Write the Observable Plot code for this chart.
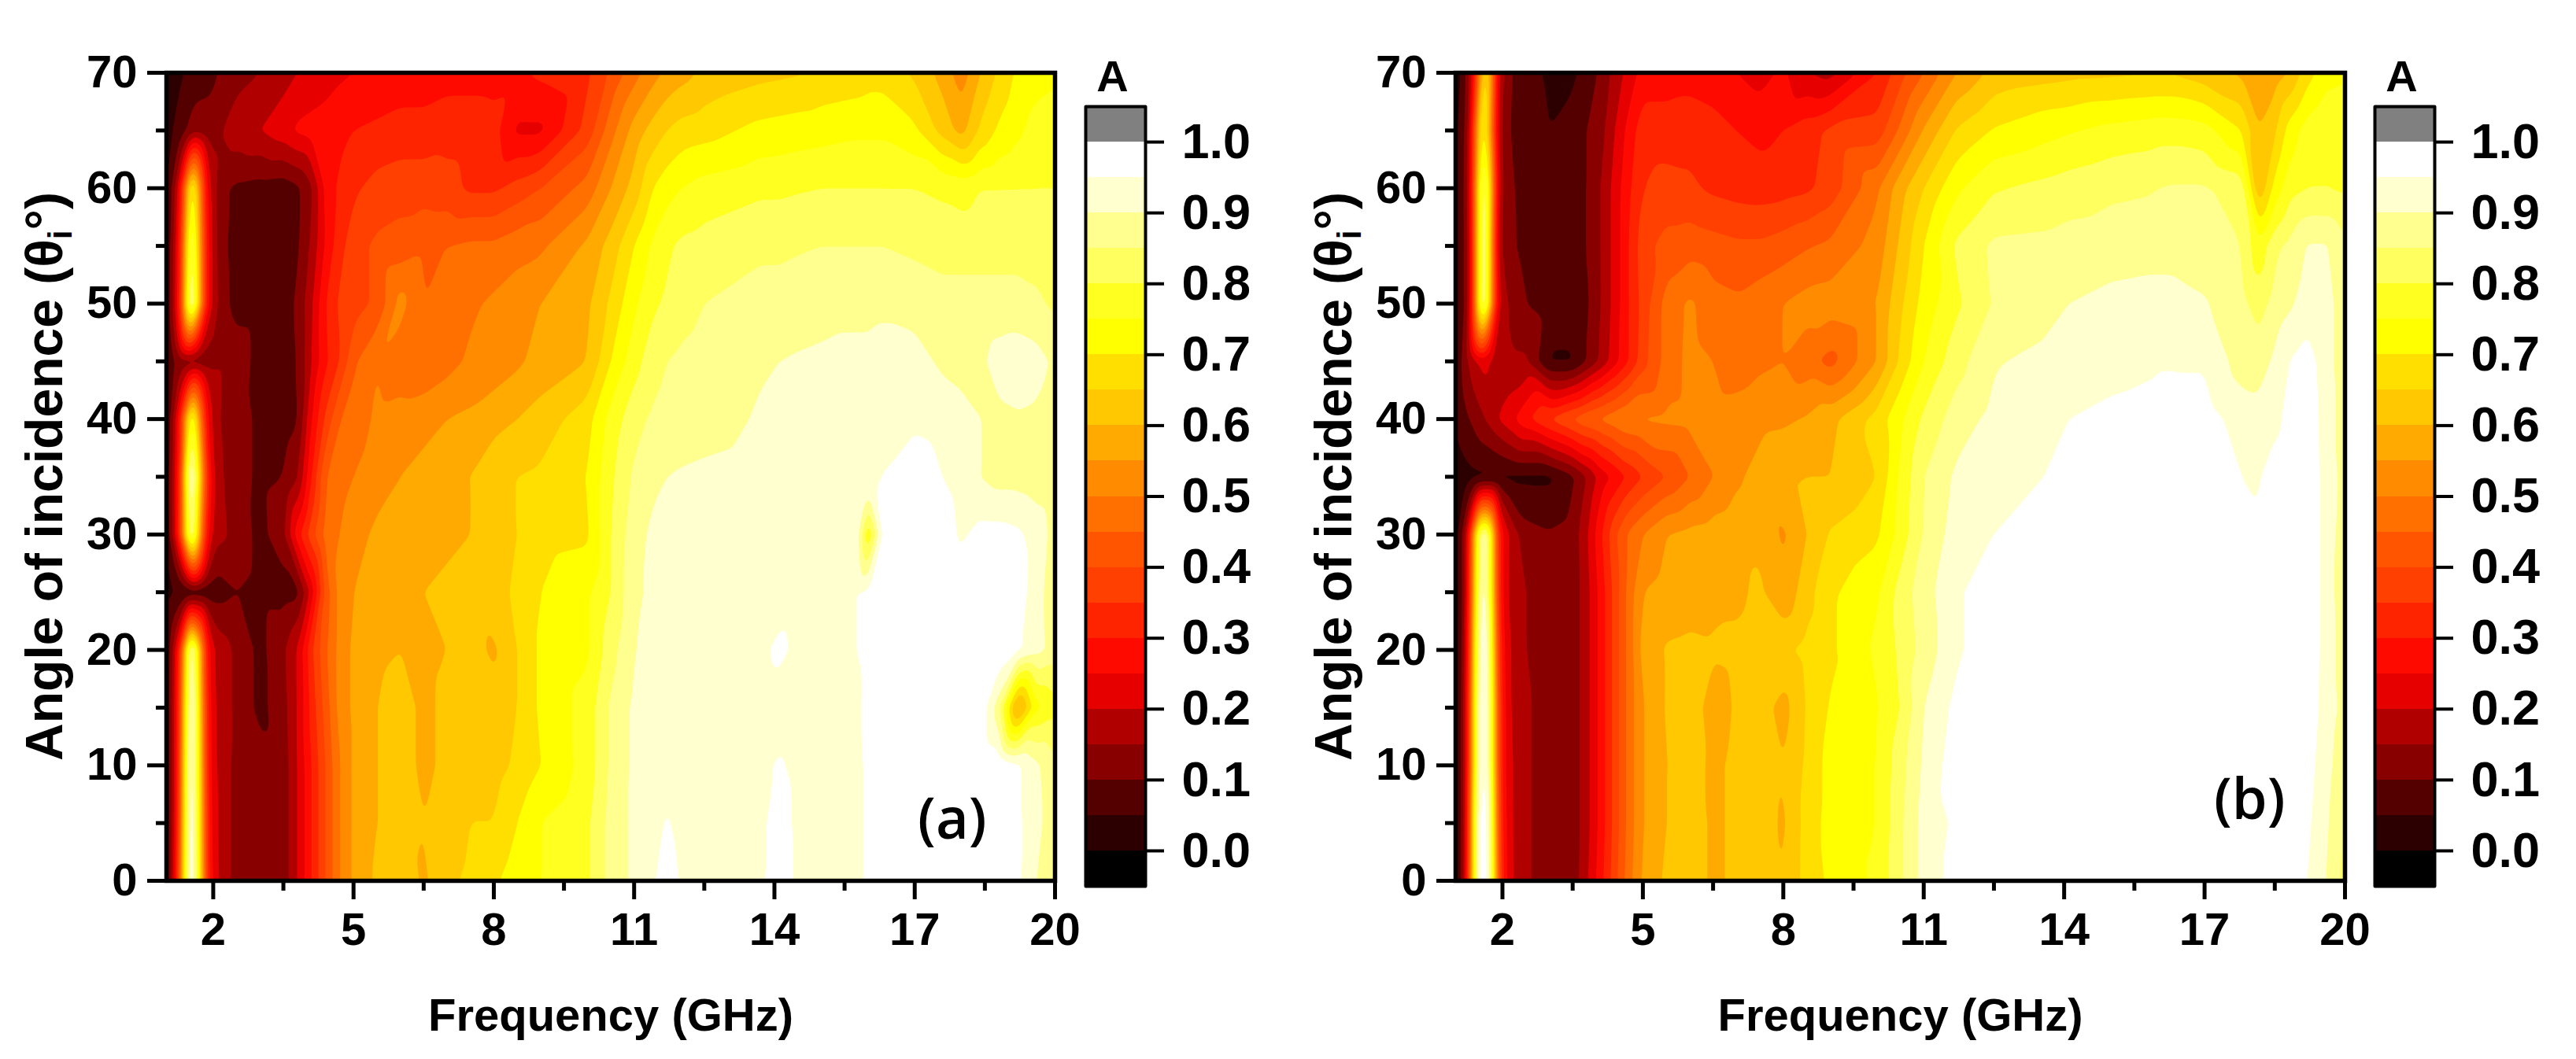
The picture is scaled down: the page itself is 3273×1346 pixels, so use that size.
<!DOCTYPE html>
<html><head><meta charset="utf-8">
<script src="https://cdn.jsdelivr.net/npm/d3@7"></script>
<script src="https://cdn.jsdelivr.net/npm/@observablehq/plot@0.6"></script>
<style>html,body{margin:0;padding:0;background:#fff;overflow:hidden;width:3273px;height:1346px}
.p{position:absolute;top:0}</style></head><body>
<script>
const angles=[0,5,10,15,20,25,30,35,40,45,50,55,60,65,70];
const freqA=[1,1.15,1.3,1.45,1.55,1.7,1.85,2,2.2,2.5,3,3.5,3.8,4.1,4.4,4.7,5,5.5,6,6.5,7,7.5,8,8.5,9,10,10.5,11,11.4,11.7,12,12.5,13.7,14.1,14.5,15,15.8,16,16.3,17,17.6,18,18.4,18.8,19.2,19.6,20];
const freqB=[1,1.15,1.3,1.45,1.6,1.75,1.9,2.05,2.2,2.5,3,3.5,3.8,4.1,4.4,4.7,5,5.5,6,6.5,7,7.5,8,8.5,9,10,10.5,11,11.7,12.5,14.1,15,15.8,16,16.3,17,17.8,18.15,18.5,18.8,19.2,19.6,20];
// absorbance in percent, one row per angle of incidence
const a00=[3,18,45,92,99,76,35,23,18,13,12,12,20,30,40,50,56,61,64,59,64,66,69,73,75,79,87,91,94,99,94,93,94,98,94,93,94,96,98,99,99,99,99,99,96,90,86];
const a05=[3,17,42,90,99,74,34,22,18,13,12,12,20,30,40,50,56,60,62,60,62,65,65,70,75,79,87,91,92,96,92.5,93,94,97,94,93,94,96,98,99,99,99,99,99,96,92,86];
const a10=[3,17,40,88,99,72,33,21,18,13,12,12,20,30,40,50,56,60,62,59,61,64,63,66,70,77,86,91,92,93,93,93,94,95.5,94,93,94,96,98,99,99,99,99,99,96,91,86];
const a15=[3,17,38,85,99,70,32,21,17,14,8.5,13,20,32,42,52,56,60,62,59,61,65,62,65,71,77,86,91,92,92,92,93,93,93,93,94,94,97,98,99,99,99,99,87,55,74,78];
const a20=[3,16,33,78,97,65,30,20,17,14,8.5,14,20,34,44,52,56,59,60,59,60,62,59,65,71,74,83,90,91,92,92,93,94,96,94,94,95,96,98,99,99,99,99,99,96,92,88];
const a25=[3,5,6,6,6,6,6,7,8,10,8.5,8,8,22,42,52,55,58,59,60,61,62,63,66,70,74,80,89,91,92,92.5,93,93,93,93.5,94,95,96,98,99,99,99,99,99,98,92,87];
const a30=[4,16,35,78,93,60,28,18,16,13,8.5,13,28,38,47,50,53,56,57,58,59,60,62,65,68,69,80,88,91,92,92,92,93,93,93.5,94,93,72,97,99,98,94,97,97,96,93,88];
const a35=[4,17,33,85,98,70,35,20,15,12,9,10,14,30,45,48,50,53,55,57,58,60,64,65,66,70,79,86,89,90,90.5,91,92,92,92.5,93,94,94,95,98,95,93,90,88,88,87,87];
const a40=[3,15,30,65,82,55,27,18,14,12,9,8,9,25,36,45,47,51,52,53,55,56,58,60,62,68,77,83,86,87,87.5,88,90.5,91,91.5,92,93,93,94,94,93,92,90,89,89.5,89,87];
const a45=[3,10,13,12,12,12,12,14,15,13,8,7,10,20,29,35,44,50,47,46,48,51,52,54,57,60,70,78,83,85,86,87,89.5,90,90.5,91,92,92,92,92,89,88,89,92,93,92,89];
const a50=[3,16,32,78,95,62,28,18,12,8,8,7,11,19,30,36,38,41,52,45,47,49,51,53,55,59,66,74,79,81,83,85,87,87,87.5,88,88,88,89,88,87,87,87,87,87,86,84];
const a55=[3,15,30,72,88,60,28,18,11,8,7,7,9,16,26,33,38,41,42,44,45,46,46,48,49,56,62,70,76,79,81,82,84,84,84.5,85,85,85,85,84,83,83,83,83,83,83,83];
const a60=[3,12,25,60,78,55,25,17,11,9,8,7,9,14,27,31,34,37,38,38,37,34,34,37,40,47,55,62,70,73,75,77,79,79,79.5,80,80,80,80,80,79,78,80,80,80,80,80];
const a65=[3,5,8,10,13,13,12,12,15,18,20,23,26,27,28,29,30,31,32,32,33,33,32,24,24,37,48,57,62,65,67,68,71.5,72,72.5,73,74,74,74,71,63,58,66,71,74,77,78];
const a70=[3,3,4,6,6,7,8,9,11,13,15,18,20,21,22,24,25,26,27,27,28,28,28,29,31,34,41,48,53,56,58,61,63.5,64,64.5,66,67,68,68,64,58,52,60,66,71,73,74];
const b00=[2,10,40,95,99,93,42,27,20,16,12,12,19,28,38,48,56,61,63,59,61,63,60,67,71,76,84,92,97,99,99,99,99,99,99,99,99,99,99,99,95,90,83];
const b05=[2,10,38,95,99,92,40,26,20,16,12,12,18,27,37,47,55,60,63,59,61,63,59,67,72,75,84,92,96,99,99,99,99,99,99,99,99,99,99,99,96,91,84];
const b10=[2,10,36,88,99,88,38,25,20,16,12,12,18,27,37,47,55,60,62,59,61,63,60,66,72,75,83,91,98,99,99,99,99,99,99,99,99,99,99,99,97,92,86];
const b15=[2,10,36,88,99,88,38,25,19,16,12,12,18,27,37,47,55,60.5,62.5,58,60.5,62.5,58,65.5,70.5,74.5,80,90,96.5,99,99,99,99,99,99,99,99,99,99,99,98,93,88];
const b20=[2,9,33,85,99,85,36,24,19,15,12,12,18,27,37,47,57,60.5,61,60.5,61,62,64,66.5,69,76,81,87,94,99,99,99,99,99,99,99,99,99,99,99,99,93,87];
const b25=[2,8,30,80,97,80,33,22,18,15,12,12,18,27,37,47,55,57,58,59,59,61,56,63,69,74,82,88,94,99,99,99,99,99,99,99,99,99,99,99,99,93,86];
const b30=[2,9,28,75,95,78,32,23,18,12,10.5,12,19,29,39,46,50,55,56.5,57.5,58.5,59,54,60,65.5,69,77,85.5,92.5,95,98,99,99,99,99,98,96,96,99,99,99,93,87];
const b35=[2,3,4,4,4,4,4,4,4,4,4,9,15,22,26,31,35,40,45,50,54,57,60,60,60,65,76,85,91,93,96,98,99,99,99,99,95,94,99,99,99,93,88];
const b40=[5,8,10,12.5,14.5,17,20,22,24,29,35.5,41,44,46,48,50,50.5,51,51.5,52,52.5,53.5,54,55.5,58.5,67,74,81,87.5,91.5,95,96,97,97,97.5,97,93,92,93,97,98,93,87];
const b45=[3,12,16,20,22,20,17,16,16,16,4.5,4.5,10,16,23,30,38,47,51.5,50,47,49,50,47,43,55,66,75,83,89.5,92.5,93.5,94,94.5,94.5,94.5,87.5,87.5,91,95,97.5,92,87];
const b50=[2,9,14,60,95,60,20,16,14,10,8,7,9,15,22,30,37,47,51,47,46,48,50,52,52.5,55,64,72,79,85.5,90,91.5,92,92,92,90.5,86.5,82.5,87,89,92.5,92,87];
const b55=[2,9,14,60,95,62,17,13,11,8,7,7,10,15,22,30,38,42,43,42,41,41,42.5,44.5,46,52,61,70,81,86,87,87.5,88,88,88,87.5,85,76,84,86,90.5,90.5,86];
const b60=[3,9,15,60,92,65,20,13,10.5,8,7,7,10,15,22,29,35,36.5,36,34,33,32.5,33,34,37,49,58,65,74,79.5,82.5,84,84.5,85,85.5,85.5,83,60,72,78,80,80,79];
const b65=[3,8,15,55,78,55,18,12,9.5,7,5,7,10,13,20,27,33,33,33,32,30,28.5,30,33,36,37,46,55.5,65.5,70.5,74.5,76.5,77.5,78,78,77,70,60,64,72,77.5,80,80];
const b70=[2,6,14,38,70,60,20,14,10,6,4.5,4,7,11,17,22,27,27,28,27,25,23,26,20,18,30,38,45,55,61.5,63.5,64,64.5,64.5,64.5,62,59,57,57.5,60,68,73,74];

const rowsA=[a00,a05,a10,a15,a20,a25,a30,a35,a40,a45,a50,a55,a60,a65,a70];
const rowsB=[b00,b05,b10,b15,b20,b25,b30,b35,b40,b45,b50,b55,b60,b65,b70];

const xMajor=[2,5,8,11,14,17,20];
const xMinor=[3.5,6.5,9.5,12.5,15.5,18.5];
const yMajor=[0,10,20,30,40,50,60,70];
const yMinor=[5,15,25,35,45,55,65];
const barTicks=[0,.1,.2,.3,.4,.5,.6,.7,.8,.9,1];
const bandLows=[-.05,0,.05,.1,.15,.2,.25,.3,.35,.4,.45,.5,.55,.6,.65,.7,.75,.8,.85,.9,.95,1];
const bandColors=["#000000","#2c0000","#550000","#880000","#b00000","#e60000","#ff0a00","#ff2400","#ff4000","#ff5500","#ff7000","#ff8c00","#ffaa00","#ffc800","#ffdf00","#ffff00","#ffff20","#ffff5f","#ffff90","#ffffcf","#ffffff","#808080"];
const thresholds=bandLows.slice(1,-1);
const colorScale={type:"threshold",domain:bandLows.slice(1),range:bandColors};
const font={fontFamily:"'Liberation Sans',Arial,sans-serif",fontWeight:"bold",fontSize:"58px",background:"transparent",overflow:"visible"};

function tidy(freq,rows){
  rows.forEach((r,i)=>{if(r.length!==freq.length) throw new Error("row "+i+" has "+r.length)});
  return angles.flatMap((a,i)=>rows[i].map((v,j)=>({f:freq[j],a,v:v/100})));
}
function yTitle(baseX){
  return (index,scales,values,dim)=>{
    const cy=(dim.marginTop+dim.height-dim.marginBottom)/2;
    const t=d3.create("svg:text").attr("transform",`translate(${baseX},${cy}) rotate(-90)`)
      .attr("text-anchor","middle").attr("font-size",66).attr("font-weight","bold").attr("fill","black");
    t.append("tspan").text("Angle of incidence (θ");
    t.append("tspan").attr("font-size",42).attr("dy",12).text("i");
    t.append("tspan").attr("dy",-12).text("°)");
    return t.node();
  };
}
function panel(freq,rows,tag,left,mr,lx,ly){
  const tick={strokeWidth:5,tickFormat:"d",label:null};
  const el=Plot.plot({
    width:1400,height:1346,marginLeft:211,marginRight:mr,marginTop:92,marginBottom:227,
    style:font,
    x:{domain:[1,20]},y:{domain:[0,70]},color:colorScale,
    marks:[
      Plot.contour(tidy(freq,rows),{x:"f",y:"a",fill:"v",interpolate:"barycentric",thresholds,pixelSize:1,blur:4}),
      Plot.frame({stroke:"black",strokeWidth:5.5}),
      Plot.axisX({...tick,ticks:xMajor,tickSize:24,tickPadding:16}),
      Plot.axisX({...tick,ticks:xMinor,tickSize:13,tickFormat:()=>""}),
      Plot.axisY({...tick,ticks:yMajor,tickSize:24,tickPadding:13}),
      Plot.axisY({...tick,ticks:yMinor,tickSize:13,tickFormat:()=>""}),
      Plot.text(["Frequency (GHz)"],{frameAnchor:"bottom",dy:190,lineAnchor:"bottom",text:d=>d,fill:"black"}),
      yTitle(79),
      Plot.text([tag],{frameAnchor:"bottom-right",dx:lx,dy:ly,text:d=>d,textAnchor:"end",lineAnchor:"bottom",fontFamily:"'Open Sans',sans-serif",fontWeight:600,fontSize:72,fill:"black"})
    ]
  });
  el.classList.add("p");el.style.left=left+"px";
  document.body.appendChild(el);
}
function bar(left){
  const el=Plot.plot({
    width:290,height:1346,marginLeft:3,marginRight:290-79,marginTop:135,marginBottom:220,
    style:{...font,fontSize:"63px"},
    x:{domain:[0,1],axis:null},y:{domain:[-.05,1.05]},color:colorScale,
    marks:[
      Plot.rect(bandLows,{x1:()=>0,x2:()=>1,y1:d=>d,y2:d=>d+.05,fill:d=>d,shapeRendering:"crispEdges"}),
      Plot.frame({stroke:"black",strokeWidth:4,strokeLinejoin:"round"}),
      Plot.axisY({ticks:barTicks,anchor:"right",tickSize:23,tickPadding:23,strokeWidth:4,tickFormat:".1f",label:null}),
      Plot.text(["A"],{frameAnchor:"top",dx:-4,dy:-20,lineAnchor:"bottom",text:d=>d,fontSize:56,fill:"black"})
    ]
  });
  el.classList.add("p");el.style.left=left+"px";
  document.body.appendChild(el);
}
panel(freqA,rowsA,"(a)",0,60,-87,-54);
bar(1376);
panel(freqB,rowsB,"(b)",1638,59,-76,-79);
bar(3014);
</script></body></html>
